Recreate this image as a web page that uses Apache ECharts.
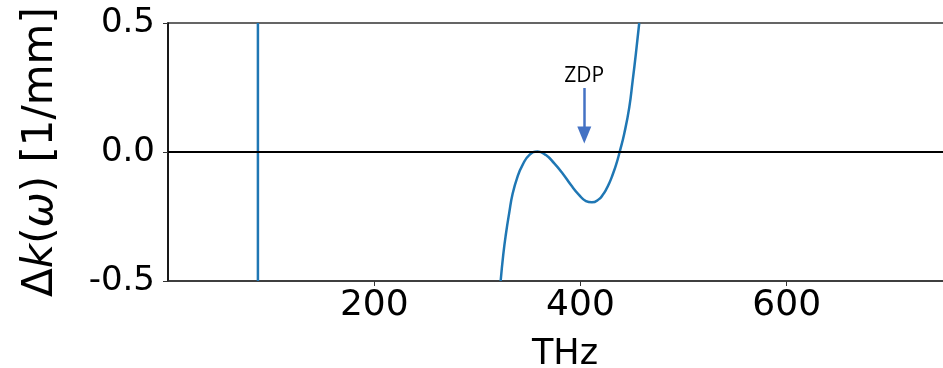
<!DOCTYPE html>
<html>
<head>
<meta charset="utf-8">
<script src="https://cdn.jsdelivr.net/npm/echarts@6/dist/echarts.min.js"></script>
<style>
  html, body { margin: 0; padding: 0; background: #fff; }
  #chart { width: 943px; height: 368px; }
</style>
</head>
<body>
<div id="chart"></div>
<script>
// Phase mismatch Δk(ω) versus frequency (THz)
const xTicks = [200, 400, 600];
const yTicks = [-0.5, 0.0, 0.5];

// Steep branch near the pole at ~87 THz
const poleBranch = [[87.2, -0.5], [87.2, 0.5]];

// Main dispersion branch: frequency (THz), Δk (1/mm)
const branchFreq = [322.6, 325.1, 327.7, 330.9, 334.2, 339.1, 343.9, 350.3, 358.5, 366.5,
                    374.6, 382.7, 390.8, 398.8, 405.3, 411.1, 418.2, 421.5, 424.7, 427.9,
                    431.0, 434.5, 438.0, 442.5, 447.3, 450.6, 453.8, 457.0];
const branchDk   = [-0.500, -0.399, -0.318, -0.236, -0.162, -0.094, -0.050, -0.012, 0.002, -0.012,
                    -0.044, -0.083, -0.128, -0.167, -0.190, -0.195, -0.182, -0.167, -0.147, -0.121,
                    -0.090, -0.050, 0.000, 0.072, 0.172, 0.276, 0.383, 0.500];

// Zero-dispersion-point marker
const zdpFreq = 403.7;
const zdpArrowTop = 0.248;
const zdpArrowTip = 0.066;
const zdpTextY = 0.295;

const mainBranch = branchFreq.map((f, i) => [f, branchDk[i]]);

const FONT = 'DejaVu Sans';
const curveColor = '#1f77b4';

const chart = echarts.init(document.getElementById('chart'), null, { renderer: 'canvas' });

chart.setOption({
  animation: false,
  backgroundColor: '#ffffff',
  grid: {
    left: 168, top: 23, width: 794, height: 258,
    outerBoundsMode: 'none',
    containLabel: false,
    show: true, borderColor: '#333', borderWidth: 1.5, backgroundColor: 'transparent'
  },
  xAxis: {
    type: 'value',
    min: 0, max: 770, interval: 200,
    name: 'THz',
    nameLocation: 'middle',
    nameGap: 56,
    nameTextStyle: { fontFamily: FONT, fontSize: 35, color: '#000' },
    axisLine: { show: true, onZero: false, lineStyle: { color: '#333', width: 1.5 } },
    axisTick: { show: true, length: 5, customValues: xTicks, lineStyle: { color: '#333', width: 1 } },
    axisLabel: {
      fontFamily: FONT, fontSize: 36, color: '#000', margin: 7,
      customValues: xTicks,
      formatter: v => String(v)
    },
    splitLine: { show: false }
  },
  yAxis: {
    type: 'value',
    min: -0.5, max: 0.5, interval: 0.5,
    name: '{n|Δ}{i|k}{n|(}{i|ω}{n|) [1/mm]}',
    nameLocation: 'middle',
    nameRotate: 90,
    nameGap: 106,
    nameTextStyle: {
      rich: {
        n: { fontFamily: FONT, fontSize: 42, color: '#000' },
        i: { fontFamily: FONT, fontSize: 42, color: '#000', fontStyle: 'italic' }
      }
    },
    axisLine: { show: true, onZero: false, lineStyle: { color: '#000', width: 1.5 } },
    axisTick: { show: true, length: 5, lineStyle: { color: '#333', width: 1 } },
    axisLabel: {
      fontFamily: FONT, fontSize: 34, color: '#000', margin: 13,
      formatter: v => yTicks.some(t => Math.abs(t - v) < 1e-9) ? v.toFixed(1) : ''
    },
    splitLine: { show: false }
  },
  series: [
    {
      type: 'line',
      data: poleBranch,
      showSymbol: false,
      lineStyle: { color: curveColor, width: 2.5 },
      clip: true,
      silent: true
    },
    {
      type: 'line',
      data: mainBranch,
      showSymbol: false,
      smooth: 0.5,
      lineStyle: { color: curveColor, width: 2.5 },
      clip: true,
      silent: true,
      markLine: {
        silent: true,
        animation: false,
        data: [
          [{ xAxis: 0, yAxis: 0, symbol: 'none' }, { xAxis: 770, yAxis: 0, symbol: 'none' }]
        ],
        lineStyle: { color: '#000', width: 2.2, type: 'solid' },
        label: { show: false }
      }
    },
    {
      type: 'line',
      data: [],
      silent: true,
      markLine: {
        silent: true,
        animation: false,
        symbol: ['none', 'triangle'],
        symbolSize: [14, 17],
        data: [
          [{ coord: [zdpFreq, zdpArrowTop] }, { coord: [zdpFreq, zdpArrowTip] }]
        ],
        lineStyle: { color: '#4472c4', width: 2.5, type: 'solid' },
        itemStyle: { color: '#4472c4' },
        label: { show: false }
      },
      markPoint: {
        silent: true,
        animation: false,
        symbol: 'circle',
        symbolSize: 0,
        data: [{ coord: [zdpFreq, zdpTextY], value: 'ZDP' }],
        label: {
          show: true, position: 'inside', formatter: 'ZDP',
          fontFamily: 'Open Sans', fontSize: 21, color: '#000'
        }
      }
    }
  ]
});
</script>
</body>
</html>
